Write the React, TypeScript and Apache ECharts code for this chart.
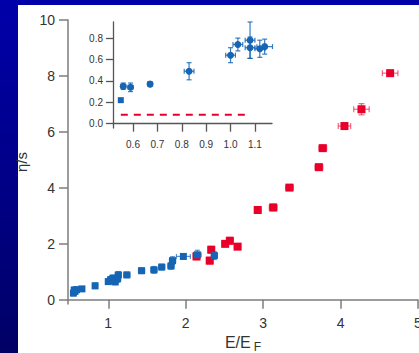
import React, { useEffect, useRef } from "react";
import * as echarts from "echarts";

// Main chart: blue (lower energies) and red (higher energies) data
const blueX = [0.55, 0.57, 0.56, 0.59, 0.66, 0.83, 1.0, 1.03, 1.06, 1.08, 1.09, 1.12, 1.13, 1.24, 1.43, 1.59, 1.69, 1.81, 1.83, 1.97, 2.15, 2.37];
const blueY = [0.24, 0.3, 0.35, 0.36, 0.39, 0.5, 0.65, 0.72, 0.77, 0.7, 0.64, 0.75, 0.89, 0.89, 1.04, 1.07, 1.17, 1.21, 1.4, 1.55, 1.61, 1.58];
const blueXErr = [0.02, 0.03, 0.03, 0.03, 0.03, 0.03, 0.03, 0.03, 0.04, 0.04, 0.03, 0.04, 0.04, 0.04, 0.04, 0.04, 0.04, 0.04, 0.04, 0.09, 0.05, 0.04];
const blueYErr = [0.1, 0.1, 0.1, 0.1, 0.08, 0.1, 0.1, 0.1, 0.12, 0.12, 0.1, 0.12, 0.12, 0.1, 0.1, 0.12, 0.1, 0.12, 0.14, 0.1, 0.16, 0.14];

const redX = [2.14, 2.31, 2.33, 2.51, 2.57, 2.67, 2.93, 3.13, 3.34, 3.72, 3.77, 4.05, 4.27, 4.64];
const redY = [1.55, 1.4, 1.79, 2.0, 2.11, 1.9, 3.21, 3.3, 4.01, 4.74, 5.42, 6.21, 6.81, 8.1];
const redXErr = [0.04, 0.04, 0.04, 0.04, 0.04, 0.04, 0.04, 0.05, 0.05, 0.05, 0.05, 0.08, 0.1, 0.1];
const redYErr = [0.12, 0.12, 0.12, 0.1, 0.12, 0.1, 0.1, 0.12, 0.1, 0.1, 0.1, 0.12, 0.2, 0.1];

// Inset data
const insetSquareX = [0.55];
const insetSquareY = [0.22];
const insetX = [0.56, 0.59, 0.67, 0.83, 1.0, 1.03, 1.08, 1.08, 1.12, 1.14];
const insetY = [0.35, 0.34, 0.37, 0.49, 0.64, 0.74, 0.78, 0.71, 0.7, 0.72];
const insetXErr = [0.01, 0.01, 0.01, 0.02, 0.02, 0.02, 0.02, 0.02, 0.02, 0.032];
const insetYErr = [0.03, 0.04, 0.02, 0.08, 0.07, 0.06, 0.17, 0.1, 0.08, 0.07];
const dashX = [0.55, 1.08];
const dashY = [0.084, 0.084];

// Tick values
const mainXTicks = [1, 2, 3, 4, 5];
const mainYTicks = [0, 2, 4, 6, 8, 10];
const insetXTicks = [0.6, 0.7, 0.8, 0.9, 1.0, 1.1];
const insetYTicks = [0, 0.2, 0.4, 0.6, 0.8];

const FONT = "'Liberation Sans', Arial, sans-serif";
const BLUE = "#1565b4";
const RED = "#e8002a";

function errorSeries(xs: number[], ys: number[], xe: number[], ye: number[], color: string, axis: number, cap: number, width: number) {
  return {
    type: "custom",
    xAxisIndex: axis,
    yAxisIndex: axis,
    silent: true,
    z: 1,
    encode: { x: 0, y: 1 },
    data: xs.map((x, i) => [x, ys[i], xe[i], ye[i]]),
    renderItem: (_p: any, api: any) => {
      const x = api.value(0);
      const y = api.value(1);
      const dx = api.value(2);
      const dy = api.value(3);
      const l = api.coord([x - dx, y]);
      const r = api.coord([x + dx, y]);
      const t = api.coord([x, y + dy]);
      const b = api.coord([x, y - dy]);
      const style = { stroke: color, lineWidth: width };
      const children: any[] = [];
      if (dx > 0) {
        children.push({ type: "line", shape: { x1: l[0], y1: l[1], x2: r[0], y2: r[1] }, style });
        children.push({ type: "line", shape: { x1: l[0], y1: l[1] - cap, x2: l[0], y2: l[1] + cap }, style });
        children.push({ type: "line", shape: { x1: r[0], y1: r[1] - cap, x2: r[0], y2: r[1] + cap }, style });
      }
      if (dy > 0) {
        children.push({ type: "line", shape: { x1: t[0], y1: t[1], x2: b[0], y2: b[1] }, style });
        children.push({ type: "line", shape: { x1: t[0] - cap, y1: t[1], x2: t[0] + cap, y2: t[1] }, style });
        children.push({ type: "line", shape: { x1: b[0] - cap, y1: b[1], x2: b[0] + cap, y2: b[1] }, style });
      }
      return { type: "group", children };
    },
  };
}

export default function App() {
  const ref = useRef<HTMLDivElement>(null);
  useEffect(() => {
    if (!ref.current) return;
    const chart = echarts.init(ref.current, undefined, { renderer: "svg" });
    const mainAxisLine = { lineStyle: { color: "#7d7d7d", width: 1.5 } };
    const insetAxisLine = { lineStyle: { color: "#555", width: 1.3 } };
    chart.setOption({
      animation: false,
      backgroundColor: "transparent",
      textStyle: { fontFamily: FONT },
      grid: [
        { left: 68, top: 20, width: 350, height: 284, containLabel: false, outerBoundsMode: "none" },
        { left: 113, top: 22, width: 159, height: 106, containLabel: false, outerBoundsMode: "none" },
      ],
      xAxis: [
        {
          gridIndex: 0,
          type: "value",
          min: 0.48,
          max: 5,
          splitLine: { show: false },
          axisLine: mainAxisLine,
          axisTick: { customValues: mainXTicks, length: 9, lineStyle: { color: "#7d7d7d", width: 1.5 } },
          axisLabel: { customValues: mainXTicks, margin: 12, fontSize: 14, color: "#333", fontFamily: FONT },
          name: "{a|E/E}{b|F}",
          nameLocation: "middle",
          nameGap: 24,
          nameTextStyle: {
            color: "#333",
            fontFamily: FONT,
            rich: {
              a: { fontSize: 16, fontFamily: FONT, color: "#333", verticalAlign: "top", lineHeight: 16 },
              b: { fontSize: 12, fontFamily: FONT, color: "#333", verticalAlign: "bottom", lineHeight: 18, padding: [0, 0, 0, 3] },
            },
          },
        },
        {
          gridIndex: 1,
          type: "value",
          min: 0.518,
          max: 1.17,
          splitLine: { show: false },
          axisLine: insetAxisLine,
          axisTick: { customValues: insetXTicks, length: 8, lineStyle: { color: "#555", width: 1.3 } },
          axisLabel: {
            customValues: insetXTicks,
            margin: 11,
            fontSize: 10,
            color: "#333",
            fontFamily: FONT,
            formatter: (v: number) => v.toFixed(1),
          },
        },
      ],
      yAxis: [
        {
          gridIndex: 0,
          type: "value",
          min: -0.15,
          max: 10,
          splitLine: { show: false },
          axisLine: { show: true, ...mainAxisLine },
          axisTick: { show: true, customValues: mainYTicks, length: 9, lineStyle: { color: "#7d7d7d", width: 1.5 } },
          axisLabel: { customValues: mainYTicks, margin: 13, fontSize: 14, color: "#333", fontFamily: FONT },
          name: "η/s",
          nameLocation: "middle",
          nameGap: 29,
          nameRotate: 90,
          nameTextStyle: { fontSize: 15, color: "#333", fontFamily: FONT },
        },
        {
          gridIndex: 1,
          type: "value",
          min: -0.04,
          max: 0.95,
          splitLine: { show: false },
          axisLine: { show: true, ...insetAxisLine },
          axisTick: { show: true, customValues: insetYTicks, length: 7, lineStyle: { color: "#555", width: 1.3 } },
          axisLabel: {
            customValues: insetYTicks,
            margin: 10,
            fontSize: 10,
            color: "#333",
            fontFamily: FONT,
            formatter: (v: number) => v.toFixed(1),
          },
        },
      ],
      series: [
        errorSeries(blueX, blueY, blueXErr, blueYErr, "rgba(21,101,180,0.7)", 0, 2.5, 1.2),
        errorSeries(redX, redY, redXErr, redYErr, "rgba(232,0,42,0.55)", 0, 3, 1.3),
        {
          type: "scatter",
          xAxisIndex: 0,
          yAxisIndex: 0,
          symbol: "rect",
          symbolSize: 8,
          itemStyle: { color: RED, opacity: 1 },
          data: redX.map((x, i) => [x, redY[i]]),
          z: 2,
        },
        {
          type: "scatter",
          xAxisIndex: 0,
          yAxisIndex: 0,
          symbol: "rect",
          symbolSize: 7,
          itemStyle: { color: BLUE, opacity: 1 },
          data: blueX.map((x, i) => [x, blueY[i]]),
          z: 3,
        },
        {
          type: "line",
          xAxisIndex: 1,
          yAxisIndex: 1,
          symbol: "none",
          lineStyle: { color: RED, width: 2, type: [7, 6] },
          data: dashX.map((x, i) => [x, dashY[i]]),
          z: 1,
        },
        errorSeries(insetX, insetY, insetXErr, insetYErr, "rgba(21,101,180,0.85)", 1, 2.5, 1.2),
        {
          type: "scatter",
          xAxisIndex: 1,
          yAxisIndex: 1,
          symbol: "circle",
          symbolSize: 7,
          itemStyle: { color: BLUE, opacity: 1 },
          data: insetX.map((x, i) => [x, insetY[i]]),
          z: 3,
        },
        {
          type: "scatter",
          xAxisIndex: 1,
          yAxisIndex: 1,
          symbol: "rect",
          symbolSize: 6,
          itemStyle: { color: BLUE, opacity: 1 },
          data: insetSquareX.map((x, i) => [x, insetSquareY[i]]),
          z: 3,
        },
      ],
    });
    return () => chart.dispose();
  }, []);

  return (
    <div
      style={{
        position: "fixed",
        left: 0,
        top: 0,
        width: 419,
        height: 353,
        background: "linear-gradient(to bottom, #0000aa 0%, #000088 50%, #000066 100%)",
        overflow: "hidden",
      }}
    >
      <div style={{ position: "absolute", left: 18, top: 5, width: 401, height: 348, background: "#ffffff" }} />
      <div ref={ref} style={{ position: "absolute", left: 0, top: 0, width: 419, height: 353 }} />
    </div>
  );
}
